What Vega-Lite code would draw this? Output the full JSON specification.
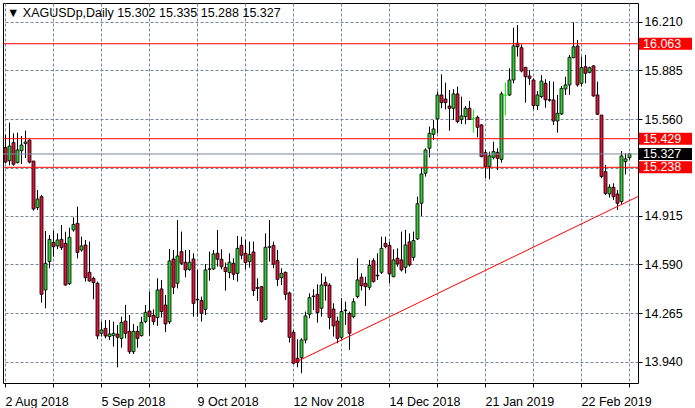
{
  "$schema": "https://vega.github.io/schema/vega-lite/v6.json",
  "width": 635,
  "height": 380,
  "autosize": "none",
  "padding": {"left": 3, "top": 3, "right": 57, "bottom": 25},
  "background": "white",
  "config": {
    "view": {"stroke": "black", "strokeWidth": 1},
    "font": "Liberation Sans",
    "axis": {"labelFont": "Liberation Sans", "labelFontSize": 12.5, "labelColor": "black", "tickColor": "black", "domain": false, "gridColor": "#778899", "gridDash": [3, 2], "gridWidth": 1, "gridOpacity": 1, "title": null}
  },
  "title": {"text": "▼ XAGUSDp,Daily   15.302 15.335 15.288 15.327", "anchor": "start", "frame": "group", "orient": "top", "offset": -22, "baseline": "middle", "dx": 4, "fontSize": 12.5, "fontWeight": "normal", "font": "Liberation Sans", "color": "black"},
  "datasets": {
    "candles": [
      {"d": "2 Aug 2018", "o": 15.371, "h": 15.454, "l": 15.265, "c": 15.273},
      {"d": "3 Aug 2018", "o": 15.282, "h": 15.536, "l": 15.251, "c": 15.380},
      {"d": "6 Aug 2018", "o": 15.403, "h": 15.465, "l": 15.249, "c": 15.258},
      {"d": "7 Aug 2018", "o": 15.269, "h": 15.469, "l": 15.265, "c": 15.354},
      {"d": "8 Aug 2018", "o": 15.349, "h": 15.447, "l": 15.260, "c": 15.387},
      {"d": "9 Aug 2018", "o": 15.396, "h": 15.483, "l": 15.300, "c": 15.407},
      {"d": "10 Aug 2018", "o": 15.420, "h": 15.425, "l": 15.265, "c": 15.273},
      {"d": "13 Aug 2018", "o": 15.280, "h": 15.280, "l": 14.949, "c": 14.960},
      {"d": "14 Aug 2018", "o": 14.969, "h": 15.087, "l": 14.953, "c": 15.026},
      {"d": "15 Aug 2018", "o": 15.042, "h": 15.053, "l": 14.334, "c": 14.390},
      {"d": "16 Aug 2018", "o": 14.419, "h": 14.813, "l": 14.297, "c": 14.597},
      {"d": "17 Aug 2018", "o": 14.608, "h": 14.786, "l": 14.564, "c": 14.757},
      {"d": "20 Aug 2018", "o": 14.737, "h": 14.815, "l": 14.642, "c": 14.708},
      {"d": "21 Aug 2018", "o": 14.713, "h": 14.797, "l": 14.691, "c": 14.753},
      {"d": "22 Aug 2018", "o": 14.757, "h": 14.853, "l": 14.686, "c": 14.702},
      {"d": "23 Aug 2018", "o": 14.731, "h": 14.808, "l": 14.448, "c": 14.452},
      {"d": "24 Aug 2018", "o": 14.461, "h": 14.835, "l": 14.452, "c": 14.771},
      {"d": "27 Aug 2018", "o": 14.820, "h": 14.904, "l": 14.808, "c": 14.857},
      {"d": "28 Aug 2018", "o": 14.864, "h": 14.975, "l": 14.630, "c": 14.670},
      {"d": "29 Aug 2018", "o": 14.686, "h": 14.775, "l": 14.675, "c": 14.713},
      {"d": "30 Aug 2018", "o": 14.719, "h": 14.753, "l": 14.475, "c": 14.501},
      {"d": "31 Aug 2018", "o": 14.537, "h": 14.742, "l": 14.475, "c": 14.479},
      {"d": "3 Sep 2018", "o": 14.497, "h": 14.508, "l": 14.357, "c": 14.468},
      {"d": "4 Sep 2018", "o": 14.464, "h": 14.475, "l": 14.090, "c": 14.112},
      {"d": "5 Sep 2018", "o": 14.130, "h": 14.208, "l": 14.108, "c": 14.152},
      {"d": "6 Sep 2018", "o": 14.163, "h": 14.219, "l": 14.096, "c": 14.112},
      {"d": "7 Sep 2018", "o": 14.108, "h": 14.219, "l": 14.085, "c": 14.125},
      {"d": "10 Sep 2018", "o": 14.114, "h": 14.208, "l": 14.041, "c": 14.130},
      {"d": "11 Sep 2018", "o": 14.125, "h": 14.185, "l": 13.903, "c": 14.103},
      {"d": "12 Sep 2018", "o": 14.096, "h": 14.241, "l": 14.034, "c": 14.203},
      {"d": "13 Sep 2018", "o": 14.212, "h": 14.319, "l": 14.096, "c": 14.130},
      {"d": "14 Sep 2018", "o": 14.143, "h": 14.252, "l": 13.992, "c": 14.007},
      {"d": "17 Sep 2018", "o": 14.007, "h": 14.192, "l": 13.992, "c": 14.143},
      {"d": "18 Sep 2018", "o": 14.143, "h": 14.179, "l": 14.034, "c": 14.096},
      {"d": "19 Sep 2018", "o": 14.114, "h": 14.241, "l": 14.108, "c": 14.203},
      {"d": "20 Sep 2018", "o": 14.208, "h": 14.319, "l": 14.197, "c": 14.270},
      {"d": "21 Sep 2018", "o": 14.279, "h": 14.408, "l": 14.114, "c": 14.241},
      {"d": "24 Sep 2018", "o": 14.250, "h": 14.290, "l": 14.186, "c": 14.208},
      {"d": "25 Sep 2018", "o": 14.235, "h": 14.497, "l": 14.179, "c": 14.419},
      {"d": "26 Sep 2018", "o": 14.426, "h": 14.486, "l": 14.235, "c": 14.275},
      {"d": "27 Sep 2018", "o": 14.319, "h": 14.386, "l": 14.137, "c": 14.192},
      {"d": "28 Sep 2018", "o": 14.206, "h": 14.693, "l": 14.192, "c": 14.613},
      {"d": "1 Oct 2018", "o": 14.626, "h": 14.686, "l": 14.392, "c": 14.437},
      {"d": "2 Oct 2018", "o": 14.464, "h": 14.886, "l": 14.430, "c": 14.646},
      {"d": "3 Oct 2018", "o": 14.675, "h": 14.809, "l": 14.586, "c": 14.597},
      {"d": "4 Oct 2018", "o": 14.604, "h": 14.686, "l": 14.504, "c": 14.553},
      {"d": "5 Oct 2018", "o": 14.557, "h": 14.686, "l": 14.548, "c": 14.604},
      {"d": "8 Oct 2018", "o": 14.626, "h": 14.664, "l": 14.241, "c": 14.330},
      {"d": "9 Oct 2018", "o": 14.357, "h": 14.553, "l": 14.241, "c": 14.352},
      {"d": "10 Oct 2018", "o": 14.348, "h": 14.375, "l": 14.208, "c": 14.263},
      {"d": "11 Oct 2018", "o": 14.290, "h": 14.593, "l": 14.252, "c": 14.553},
      {"d": "12 Oct 2018", "o": 14.557, "h": 14.675, "l": 14.481, "c": 14.560},
      {"d": "15 Oct 2018", "o": 14.559, "h": 14.686, "l": 14.553, "c": 14.660},
      {"d": "16 Oct 2018", "o": 14.664, "h": 14.820, "l": 14.575, "c": 14.624},
      {"d": "17 Oct 2018", "o": 14.624, "h": 14.691, "l": 14.557, "c": 14.575},
      {"d": "18 Oct 2018", "o": 14.570, "h": 14.602, "l": 14.415, "c": 14.542},
      {"d": "19 Oct 2018", "o": 14.535, "h": 14.664, "l": 14.497, "c": 14.604},
      {"d": "22 Oct 2018", "o": 14.597, "h": 14.631, "l": 14.486, "c": 14.524},
      {"d": "23 Oct 2018", "o": 14.530, "h": 14.780, "l": 14.475, "c": 14.697},
      {"d": "24 Oct 2018", "o": 14.717, "h": 14.775, "l": 14.624, "c": 14.651},
      {"d": "25 Oct 2018", "o": 14.664, "h": 14.753, "l": 14.557, "c": 14.602},
      {"d": "26 Oct 2018", "o": 14.608, "h": 14.742, "l": 14.568, "c": 14.657},
      {"d": "29 Oct 2018", "o": 14.673, "h": 14.742, "l": 14.379, "c": 14.415},
      {"d": "30 Oct 2018", "o": 14.435, "h": 14.497, "l": 14.346, "c": 14.430},
      {"d": "31 Oct 2018", "o": 14.441, "h": 14.446, "l": 14.201, "c": 14.208},
      {"d": "1 Nov 2018", "o": 14.223, "h": 14.797, "l": 14.219, "c": 14.704},
      {"d": "2 Nov 2018", "o": 14.704, "h": 14.886, "l": 14.608, "c": 14.708},
      {"d": "5 Nov 2018", "o": 14.717, "h": 14.742, "l": 14.564, "c": 14.591},
      {"d": "6 Nov 2018", "o": 14.615, "h": 14.686, "l": 14.446, "c": 14.490},
      {"d": "7 Nov 2018", "o": 14.501, "h": 14.564, "l": 14.452, "c": 14.530},
      {"d": "8 Nov 2018", "o": 14.537, "h": 14.542, "l": 14.352, "c": 14.390},
      {"d": "9 Nov 2018", "o": 14.399, "h": 14.408, "l": 14.068, "c": 14.103},
      {"d": "12 Nov 2018", "o": 14.137, "h": 14.152, "l": 13.925, "c": 13.930},
      {"d": "13 Nov 2018", "o": 13.963, "h": 14.090, "l": 13.903, "c": 13.936},
      {"d": "14 Nov 2018", "o": 13.967, "h": 14.097, "l": 13.863, "c": 14.085},
      {"d": "15 Nov 2018", "o": 14.085, "h": 14.275, "l": 14.063, "c": 14.246},
      {"d": "16 Nov 2018", "o": 14.257, "h": 14.397, "l": 14.230, "c": 14.368},
      {"d": "19 Nov 2018", "o": 14.375, "h": 14.424, "l": 14.286, "c": 14.379},
      {"d": "20 Nov 2018", "o": 14.390, "h": 14.457, "l": 14.201, "c": 14.268},
      {"d": "21 Nov 2018", "o": 14.297, "h": 14.530, "l": 14.241, "c": 14.452},
      {"d": "22 Nov 2018", "o": 14.470, "h": 14.508, "l": 14.348, "c": 14.448},
      {"d": "23 Nov 2018", "o": 14.452, "h": 14.464, "l": 14.157, "c": 14.235},
      {"d": "26 Nov 2018", "o": 14.292, "h": 14.330, "l": 14.108, "c": 14.179},
      {"d": "27 Nov 2018", "o": 14.212, "h": 14.241, "l": 14.063, "c": 14.096},
      {"d": "28 Nov 2018", "o": 14.103, "h": 14.364, "l": 14.090, "c": 14.275},
      {"d": "29 Nov 2018", "o": 14.281, "h": 14.341, "l": 14.186, "c": 14.285},
      {"d": "30 Nov 2018", "o": 14.263, "h": 14.275, "l": 14.019, "c": 14.130},
      {"d": "3 Dec 2018", "o": 14.241, "h": 14.364, "l": 14.230, "c": 14.341},
      {"d": "4 Dec 2018", "o": 14.375, "h": 14.631, "l": 14.364, "c": 14.486},
      {"d": "5 Dec 2018", "o": 14.504, "h": 14.530, "l": 14.415, "c": 14.448},
      {"d": "6 Dec 2018", "o": 14.464, "h": 14.508, "l": 14.312, "c": 14.441},
      {"d": "7 Dec 2018", "o": 14.437, "h": 14.620, "l": 14.419, "c": 14.582},
      {"d": "10 Dec 2018", "o": 14.615, "h": 14.631, "l": 14.468, "c": 14.475},
      {"d": "11 Dec 2018", "o": 14.513, "h": 14.664, "l": 14.486, "c": 14.518},
      {"d": "12 Dec 2018", "o": 14.537, "h": 14.775, "l": 14.526, "c": 14.697},
      {"d": "13 Dec 2018", "o": 14.731, "h": 14.775, "l": 14.697, "c": 14.708},
      {"d": "14 Dec 2018", "o": 14.717, "h": 14.742, "l": 14.464, "c": 14.526},
      {"d": "17 Dec 2018", "o": 14.508, "h": 14.691, "l": 14.504, "c": 14.620},
      {"d": "18 Dec 2018", "o": 14.631, "h": 14.697, "l": 14.575, "c": 14.593},
      {"d": "19 Dec 2018", "o": 14.620, "h": 14.809, "l": 14.542, "c": 14.553},
      {"d": "20 Dec 2018", "o": 14.570, "h": 14.820, "l": 14.530, "c": 14.720},
      {"d": "21 Dec 2018", "o": 14.740, "h": 14.797, "l": 14.575, "c": 14.586},
      {"d": "24 Dec 2018", "o": 14.637, "h": 14.809, "l": 14.615, "c": 14.749},
      {"d": "26 Dec 2018", "o": 14.760, "h": 15.042, "l": 14.753, "c": 14.995},
      {"d": "27 Dec 2018", "o": 14.998, "h": 15.231, "l": 14.913, "c": 15.194},
      {"d": "28 Dec 2018", "o": 15.198, "h": 15.365, "l": 15.176, "c": 15.354},
      {"d": "31 Dec 2018", "o": 15.365, "h": 15.510, "l": 15.305, "c": 15.465},
      {"d": "2 Jan 2019", "o": 15.458, "h": 15.554, "l": 15.420, "c": 15.494},
      {"d": "3 Jan 2019", "o": 15.561, "h": 15.743, "l": 15.465, "c": 15.721},
      {"d": "4 Jan 2019", "o": 15.721, "h": 15.859, "l": 15.632, "c": 15.670},
      {"d": "7 Jan 2019", "o": 15.694, "h": 15.803, "l": 15.625, "c": 15.670},
      {"d": "8 Jan 2019", "o": 15.647, "h": 15.754, "l": 15.483, "c": 15.632},
      {"d": "9 Jan 2019", "o": 15.632, "h": 15.759, "l": 15.554, "c": 15.728},
      {"d": "10 Jan 2019", "o": 15.728, "h": 15.777, "l": 15.532, "c": 15.543},
      {"d": "11 Jan 2019", "o": 15.558, "h": 15.710, "l": 15.527, "c": 15.581},
      {"d": "14 Jan 2019", "o": 15.576, "h": 15.647, "l": 15.525, "c": 15.632},
      {"d": "15 Jan 2019", "o": 15.632, "h": 15.681, "l": 15.554, "c": 15.558},
      {"d": "16 Jan 2019", "o": 15.565, "h": 15.625, "l": 15.469, "c": 15.565},
      {"d": "17 Jan 2019", "o": 15.572, "h": 15.583, "l": 15.438, "c": 15.505},
      {"d": "18 Jan 2019", "o": 15.521, "h": 15.527, "l": 15.305, "c": 15.309},
      {"d": "21 Jan 2019", "o": 15.336, "h": 15.354, "l": 15.165, "c": 15.242},
      {"d": "22 Jan 2019", "o": 15.242, "h": 15.343, "l": 15.158, "c": 15.314},
      {"d": "23 Jan 2019", "o": 15.305, "h": 15.409, "l": 15.291, "c": 15.343},
      {"d": "24 Jan 2019", "o": 15.338, "h": 15.365, "l": 15.220, "c": 15.298},
      {"d": "25 Jan 2019", "o": 15.291, "h": 15.743, "l": 15.269, "c": 15.728},
      {"d": "28 Jan 2019", "o": 15.719, "h": 15.803, "l": 15.583, "c": 15.719},
      {"d": "29 Jan 2019", "o": 15.721, "h": 15.899, "l": 15.714, "c": 15.821},
      {"d": "30 Jan 2019", "o": 15.821, "h": 16.170, "l": 15.799, "c": 16.048},
      {"d": "31 Jan 2019", "o": 16.066, "h": 16.188, "l": 15.977, "c": 16.043},
      {"d": "1 Feb 2019", "o": 16.037, "h": 16.059, "l": 15.872, "c": 15.881},
      {"d": "4 Feb 2019", "o": 15.906, "h": 15.906, "l": 15.670, "c": 15.843},
      {"d": "5 Feb 2019", "o": 15.848, "h": 15.888, "l": 15.788, "c": 15.832},
      {"d": "6 Feb 2019", "o": 15.821, "h": 15.832, "l": 15.625, "c": 15.650},
      {"d": "7 Feb 2019", "o": 15.650, "h": 15.748, "l": 15.621, "c": 15.721},
      {"d": "8 Feb 2019", "o": 15.710, "h": 15.854, "l": 15.699, "c": 15.814},
      {"d": "11 Feb 2019", "o": 15.799, "h": 15.826, "l": 15.636, "c": 15.688},
      {"d": "12 Feb 2019", "o": 15.690, "h": 15.814, "l": 15.676, "c": 15.686},
      {"d": "13 Feb 2019", "o": 15.688, "h": 15.810, "l": 15.521, "c": 15.547},
      {"d": "14 Feb 2019", "o": 15.547, "h": 15.721, "l": 15.469, "c": 15.599},
      {"d": "15 Feb 2019", "o": 15.594, "h": 15.781, "l": 15.587, "c": 15.765},
      {"d": "18 Feb 2019", "o": 15.761, "h": 15.843, "l": 15.721, "c": 15.788},
      {"d": "19 Feb 2019", "o": 15.788, "h": 15.988, "l": 15.721, "c": 15.972},
      {"d": "20 Feb 2019", "o": 15.970, "h": 16.206, "l": 15.966, "c": 16.043},
      {"d": "21 Feb 2019", "o": 16.048, "h": 16.088, "l": 15.777, "c": 15.788},
      {"d": "22 Feb 2019", "o": 15.799, "h": 15.977, "l": 15.777, "c": 15.903},
      {"d": "25 Feb 2019", "o": 15.910, "h": 15.988, "l": 15.799, "c": 15.866},
      {"d": "26 Feb 2019", "o": 15.872, "h": 15.910, "l": 15.866, "c": 15.903},
      {"d": "27 Feb 2019", "o": 15.915, "h": 15.921, "l": 15.710, "c": 15.714},
      {"d": "28 Feb 2019", "o": 15.721, "h": 15.810, "l": 15.587, "c": 15.592},
      {"d": "1 Mar 2019", "o": 15.587, "h": 15.587, "l": 15.165, "c": 15.176},
      {"d": "4 Mar 2019", "o": 15.209, "h": 15.254, "l": 15.053, "c": 15.064},
      {"d": "5 Mar 2019", "o": 15.060, "h": 15.125, "l": 15.036, "c": 15.105},
      {"d": "6 Mar 2019", "o": 15.105, "h": 15.131, "l": 15.020, "c": 15.042},
      {"d": "7 Mar 2019", "o": 15.060, "h": 15.087, "l": 14.953, "c": 14.998},
      {"d": "8 Mar 2019", "o": 15.009, "h": 15.347, "l": 14.991, "c": 15.314},
      {"d": "11 Mar 2019", "o": 15.276, "h": 15.332, "l": 15.191, "c": 15.294},
      {"d": "12 Mar 2019", "o": 15.302, "h": 15.335, "l": 15.288, "c": 15.327}
    ],
    "levels": [
      {"p": 16.063, "kind": "level"},
      {"p": 15.429, "kind": "level"},
      {"p": 15.238, "kind": "level"},
      {"p": 15.327, "kind": "bid"}
    ],
    "trend": [
      {"d": "12 Nov 2018", "p1": 13.93, "p2": 15.043}
    ]
  },
  "layer": [
    {
      "data": {"name": "candles"},
      "mark": {"type": "rule", "strokeWidth": 1},
      "encoding": {
        "x": {
          "field": "d", "type": "ordinal", "sort": null,
          "scale": {"type": "band", "paddingInner": 0, "paddingOuter": 0.875, "align": 0.0714},
          "axis": {
            "values": ["2 Aug 2018", "20 Aug 2018", "5 Sep 2018", "21 Sep 2018", "9 Oct 2018", "25 Oct 2018", "12 Nov 2018", "28 Nov 2018", "14 Dec 2018", "3 Jan 2019", "21 Jan 2019", "6 Feb 2019", "22 Feb 2019", "12 Mar 2019"],
            "labelExpr": "round(datum.index * 13) % 2 == 0 ? datum.label : ''",
            "bandPosition": 0.5,
            "grid": true,
            "ticks": true, "tickSize": 4, "tickBand": "center",
            "labelAngle": 0, "labelAlign": "left", "labelBaseline": "top", "labelPadding": 8, "labelDx": -1,
            "labelOverlap": false, "labelFlush": false, "labelBound": false
          }
        },
        "y": {
          "field": "l", "type": "quantitative",
          "scale": {"domain": [13.798, 16.335], "nice": false, "zero": false},
          "axis": {"orient": "right", "values": [16.21, 15.885, 15.56, 15.235, 14.915, 14.59, 14.265, 13.94], "format": ".3f", "tickSize": 4, "labelPadding": 2, "labelAlign": "left", "labelBaseline": "middle", "grid": true}
        },
        "y2": {"field": "h"},
        "color": {"condition": {"test": "datum.o == datum.c", "value": "#00ff00"}, "value": "black"}
      }
    },
    {
      "data": {"name": "candles"},
      "mark": {"type": "bar", "width": 3, "strokeWidth": 0.8},
      "encoding": {
        "x": {"field": "d", "type": "ordinal", "sort": null},
        "y": {"field": "o", "type": "quantitative"},
        "y2": {"field": "c"},
        "fill": {"condition": {"test": "datum.c > datum.o", "value": "#32cd32"}, "value": "#dc143c"},
        "stroke": {"condition": {"test": "datum.o == datum.c", "value": "#00ff00"}, "value": "black"}
      }
    },
    {
      "data": {"name": "levels"},
      "mark": {"type": "rule", "strokeWidth": 1},
      "encoding": {
        "y": {"field": "p", "type": "quantitative"},
        "color": {"condition": {"test": "datum.kind == 'bid'", "value": "#778899"}, "value": "#ff0000"}
      }
    },
    {
      "data": {"name": "trend"},
      "mark": {"type": "rule", "strokeWidth": 1, "color": "#ff0000"},
      "encoding": {
        "x": {"field": "d", "type": "ordinal", "sort": null},
        "x2": {"value": "width"},
        "y": {"field": "p1", "type": "quantitative"},
        "y2": {"field": "p2"}
      }
    },
    {
      "data": {"name": "levels"},
      "mark": {"type": "rect", "xOffset": 1, "x2Offset": 54, "yOffset": -6, "y2Offset": 6},
      "encoding": {
        "x": {"value": "width"},
        "x2": {"value": "width"},
        "y": {"field": "p", "type": "quantitative"},
        "y2": {"field": "p"},
        "color": {"condition": {"test": "datum.kind == 'bid'", "value": "black"}, "value": "#ff0000"}
      }
    },
    {
      "data": {"name": "levels"},
      "mark": {"type": "text", "align": "left", "baseline": "middle", "dx": 5, "fontSize": 12.5, "font": "Liberation Sans", "color": "white"},
      "encoding": {
        "x": {"value": "width"},
        "y": {"field": "p", "type": "quantitative"},
        "text": {"field": "p", "type": "quantitative", "format": ".3f"}
      }
    }
  ]
}
